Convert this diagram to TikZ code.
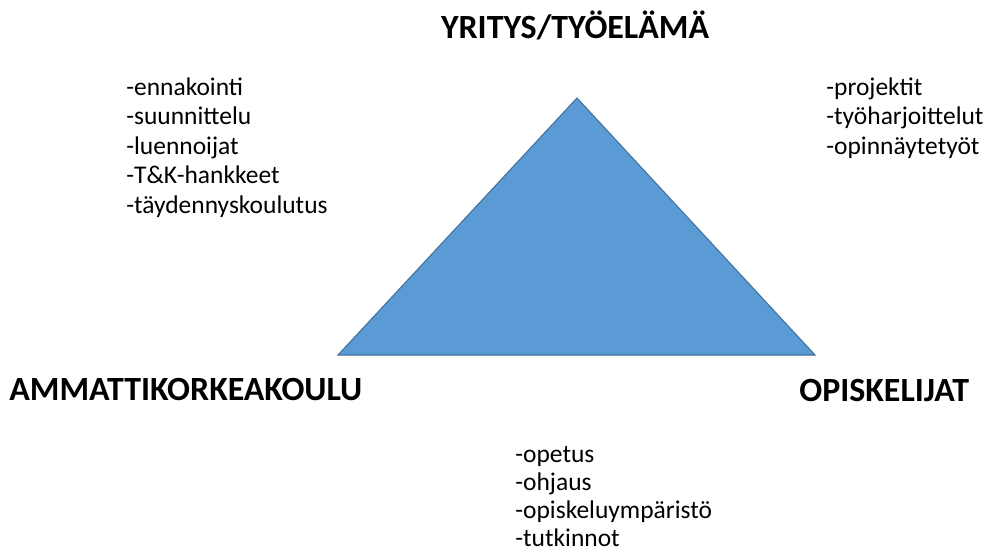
\documentclass[tikz,border=0pt]{standalone}
\usepackage{fontspec}
\setmainfont{Carlito}
\usepackage{tikz}
\usetikzlibrary{positioning}
\definecolor{TriFill}{HTML}{5B9BD5}
\definecolor{TriBorder}{HTML}{41719C}

\tikzset{
  title/.style={font=\fontsize{19.3}{22}\selectfont\bfseries, inner sep=0pt},
  list/.style={font=\fontsize{14.5}{16.8}\selectfont, align=left, inner sep=0pt, anchor=north west}
}

\begin{document}
\begin{tikzpicture}
  \useasboundingbox (0,0) rectangle (19.74,11.10);

  % Triangle
  \coordinate (top) at (11.54,9.14);
  \coordinate (left) at (6.76,4.00);
  \coordinate (right) at (16.30,4.00);
  \draw[TriBorder, fill=TriFill, line width=0.6pt] (top) -- (right) -- (left) -- cycle;

  % Corner titles
  \node[title, anchor=base] (yritys) at (11.50,10.34) {YRITYS/TYÖELÄMÄ};
  \node[title, anchor=base west] (amk) at (0.18,3.10) {AMMATTIKORKEAKOULU};
  \node[title, anchor=base west] (opisk) at (15.98,3.08) {OPISKELIJAT};

  % Lists
  \node[list] (amklist) at (2.52,9.56) {-ennakointi\\-suunnittelu\\-luennoijat\\-T\&K-hankkeet\\-täydennyskoulutus};
  \node[list] (yrityslist) at (16.52,9.56) {-projektit\\-työharjoittelut\\-opinnäytetyöt};
  \node[list, font=\fontsize{14.5}{15.9}\selectfont] (opisklist) at (10.30,2.17) {-opetus\\-ohjaus\\-opiskeluympäristö\\-tutkinnot};
\end{tikzpicture}
\end{document}
